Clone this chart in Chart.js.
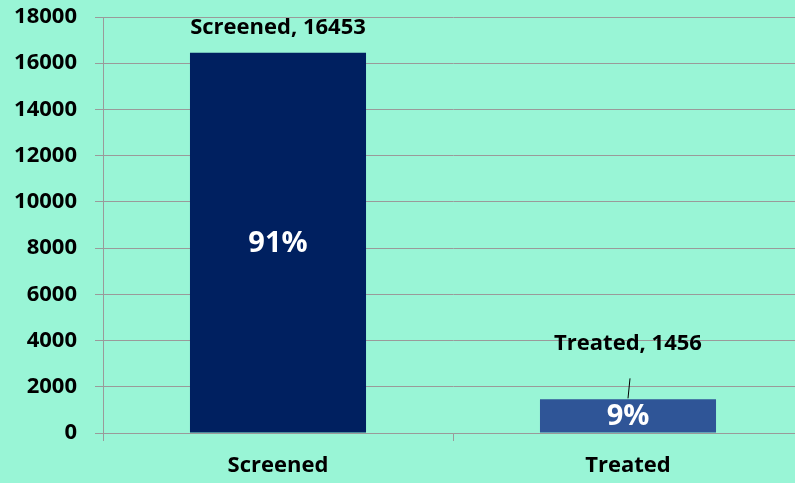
<!DOCTYPE html>
<html>
<head>
<meta charset="utf-8">
<script src="https://cdn.jsdelivr.net/npm/chart.js@4"></script>
<style>
  html, body { margin: 0; padding: 0; overflow: hidden; background: #99F5D6; }
  #wrap { width: 805px; height: 483px; }
</style>
</head>
<body>
<div id="wrap"><canvas id="graphic"></canvas></div>
<script>
const categories = ["Screened", "Treated"];
const counts = [16453, 1456];
const pctLabels = ["91%", "9%"];
const barColors = ["#002060", "#2F5597"];
const yTicks = [0, 2000, 4000, 6000, 8000, 10000, 12000, 14000, 16000, 18000];

const fontFam = "'Open Sans', 'Liberation Sans', sans-serif";

// draws "Screened, 16453" above bars and the % inside
const barLabels = {
  id: "barLabels",
  afterDatasetsDraw(chart) {
    const ctx = chart.ctx;
    const meta = chart.getDatasetMeta(0);
    ctx.save();
    meta.data.forEach((bar, i) => {
      const top = bar.y;
      const bottom = bar.base;
      // percentage inside
      ctx.fillStyle = "#ffffff";
      ctx.font = "bold 29px " + fontFam;
      ctx.textAlign = "center";
      ctx.textBaseline = "middle";
      ctx.fillText(pctLabels[i], bar.x, (top + bottom) / 2 + 1);

      // name, value label
      ctx.fillStyle = "#000000";
      ctx.font = "bold 22px " + fontFam;
      const txt = categories[i] + ", " + counts[i];
      if (bottom - top > 100) {
        ctx.fillText(txt, bar.x, top - 25);
      } else {
        ctx.fillText(txt, bar.x, top - 56);
        ctx.strokeStyle = "#000000";
        ctx.lineWidth = 1;
        ctx.beginPath();
        ctx.moveTo(bar.x + 2, top - 21);
        ctx.lineTo(bar.x, top - 1);
        ctx.stroke();
      }
    });
    ctx.restore();
  }
};

const ctx = document.getElementById("graphic");

const chart = new Chart(ctx, {
  type: "bar",
  data: {
    labels: categories,
    datasets: [{
      data: counts,
      backgroundColor: barColors,
      borderWidth: 0,
      barPercentage: 0.503,
      categoryPercentage: 1
    }]
  },
  options: {
    responsive: true,
    maintainAspectRatio: false,
    animation: false,
    layout: { padding: { top: 17, right: 2, left: 0, bottom: 0 } },
    plugins: {
      legend: { display: false },
      tooltip: { enabled: false }
    },
    scales: {
      x: {
        grid: {
          display: true,
          drawOnChartArea: false,
          drawTicks: true,
          tickLength: 8,
          color: "#9A9A9A"
        },
        border: { color: "#9A9A9A" },
        ticks: {
          color: "#000000",
          font: { family: fontFam, size: 22, weight: "bold" },
          padding: 12
        },
        afterFit(scale) { scale.height = 50; }
      },
      y: {
        min: 0,
        max: 18000,
        afterBuildTicks(scale) {
          scale.ticks = yTicks.map(v => ({ value: v }));
        },
        grid: {
          color: "#9A9A9A",
          tickLength: 8
        },
        border: { color: "#9A9A9A" },
        ticks: {
          color: "#000000",
          font: { family: fontFam, size: 22, weight: "bold" },
          padding: 18,
          callback: (v) => String(v)
        },
        afterFit(scale) {
          scale.width = 103;
          scale.paddingTop = 0;
          scale.paddingBottom = 0;
        }
      }
    }
  },
  plugins: [barLabels]
});
</script>
</body>
</html>
